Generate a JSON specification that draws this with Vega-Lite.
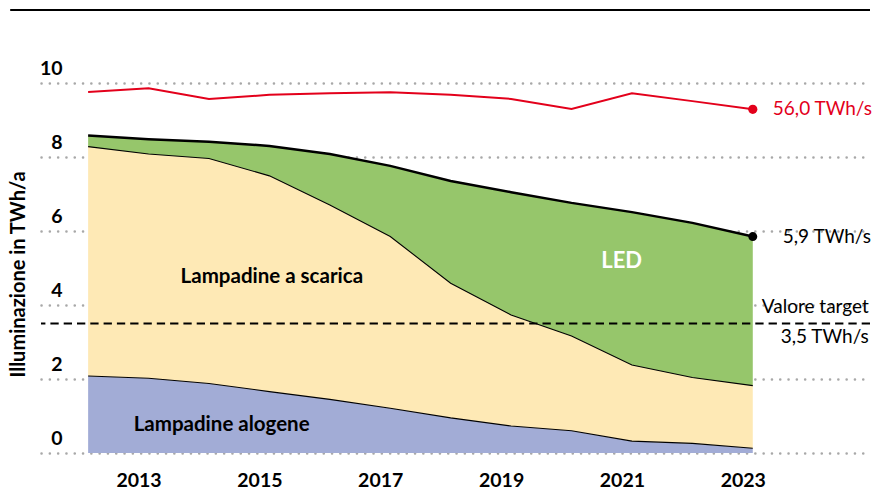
{
  "$schema": "https://vega.github.io/schema/vega-lite/v6.json",
  "width": 829,
  "height": 443,
  "autosize": {"type": "none"},
  "padding": {"left": 41, "top": 10, "right": 3, "bottom": 36},
  "background": "white",
  "config": {
    "view": {"stroke": null},
    "font": "Lato",
    "text": {"font": "Lato"}
  },
  "datasets": {
    "mix": [
      {"year": 2012, "cat": "Lampadine alogene", "rank": 1, "value": 2.08},
      {"year": 2013, "cat": "Lampadine alogene", "rank": 1, "value": 2.02},
      {"year": 2014, "cat": "Lampadine alogene", "rank": 1, "value": 1.88},
      {"year": 2015, "cat": "Lampadine alogene", "rank": 1, "value": 1.66},
      {"year": 2016, "cat": "Lampadine alogene", "rank": 1, "value": 1.45},
      {"year": 2017, "cat": "Lampadine alogene", "rank": 1, "value": 1.21},
      {"year": 2018, "cat": "Lampadine alogene", "rank": 1, "value": 0.95},
      {"year": 2019, "cat": "Lampadine alogene", "rank": 1, "value": 0.73},
      {"year": 2020, "cat": "Lampadine alogene", "rank": 1, "value": 0.60},
      {"year": 2021, "cat": "Lampadine alogene", "rank": 1, "value": 0.32},
      {"year": 2022, "cat": "Lampadine alogene", "rank": 1, "value": 0.26},
      {"year": 2023, "cat": "Lampadine alogene", "rank": 1, "value": 0.13},
      {"year": 2012, "cat": "Lampadine a scarica", "rank": 2, "value": 6.20},
      {"year": 2013, "cat": "Lampadine a scarica", "rank": 2, "value": 6.06},
      {"year": 2014, "cat": "Lampadine a scarica", "rank": 2, "value": 6.08},
      {"year": 2015, "cat": "Lampadine a scarica", "rank": 2, "value": 5.83},
      {"year": 2016, "cat": "Lampadine a scarica", "rank": 2, "value": 5.25},
      {"year": 2017, "cat": "Lampadine a scarica", "rank": 2, "value": 4.64},
      {"year": 2018, "cat": "Lampadine a scarica", "rank": 2, "value": 3.64},
      {"year": 2019, "cat": "Lampadine a scarica", "rank": 2, "value": 3.00},
      {"year": 2020, "cat": "Lampadine a scarica", "rank": 2, "value": 2.56},
      {"year": 2021, "cat": "Lampadine a scarica", "rank": 2, "value": 2.06},
      {"year": 2022, "cat": "Lampadine a scarica", "rank": 2, "value": 1.78},
      {"year": 2023, "cat": "Lampadine a scarica", "rank": 2, "value": 1.69},
      {"year": 2012, "cat": "LED", "rank": 3, "value": 0.30},
      {"year": 2013, "cat": "LED", "rank": 3, "value": 0.40},
      {"year": 2014, "cat": "LED", "rank": 3, "value": 0.45},
      {"year": 2015, "cat": "LED", "rank": 3, "value": 0.81},
      {"year": 2016, "cat": "LED", "rank": 3, "value": 1.38},
      {"year": 2017, "cat": "LED", "rank": 3, "value": 1.91},
      {"year": 2018, "cat": "LED", "rank": 3, "value": 2.76},
      {"year": 2019, "cat": "LED", "rank": 3, "value": 3.32},
      {"year": 2020, "cat": "LED", "rank": 3, "value": 3.60},
      {"year": 2021, "cat": "LED", "rank": 3, "value": 4.13},
      {"year": 2022, "cat": "LED", "rank": 3, "value": 4.18},
      {"year": 2023, "cat": "LED", "rank": 3, "value": 4.03}
    ],
    "red": [
      {"year": 2012, "value": 9.76},
      {"year": 2013, "value": 9.86},
      {"year": 2014, "value": 9.57},
      {"year": 2015, "value": 9.68},
      {"year": 2016, "value": 9.72},
      {"year": 2017, "value": 9.75},
      {"year": 2018, "value": 9.68},
      {"year": 2019, "value": 9.57},
      {"year": 2020, "value": 9.30},
      {"year": 2021, "value": 9.72},
      {"year": 2022, "value": 9.51},
      {"year": 2023, "value": 9.29}
    ],
    "labels": [
      {"year": 2015.04, "value": 4.76, "text": "Lampadine a scarica", "color": "black", "size": 20.5},
      {"year": 2020.83, "value": 5.2, "text": "LED", "color": "white", "size": 22},
      {"year": 2014.21, "value": 0.76, "text": "Lampadine alogene", "color": "black", "size": 20.5}
    ]
  },
  "layer": [
    {
      "data": {"name": "mix"},
      "transform": [
        {"stack": "value", "groupby": ["year"], "sort": [{"field": "rank", "order": "ascending"}], "as": ["v0", "v1"]}
      ],
      "mark": {"type": "area", "opacity": 1},
      "encoding": {
        "x": {
          "field": "year", "type": "quantitative",
          "scale": {"domain": [2011.22, 2024.94], "nice": false, "zero": false},
          "axis": {
            "title": null, "values": [2013, 2015, 2017, 2019, 2021, 2023], "format": "d",
            "domain": false, "ticks": false, "tickSize": 0, "grid": false,
            "labelFont": "Lato", "labelFontSize": 19.5, "labelFontWeight": "bold", "labelColor": "black",
            "labelPadding": 27, "labelBaseline": "middle", "labelOffset": -10
          }
        },
        "y": {
          "field": "v1", "type": "quantitative",
          "scale": {"domain": [0, 11.973], "nice": false, "zero": true},
          "axis": {
            "title": "Illuminazione in TWh/a", "values": [0, 2, 4, 6, 8, 10],
            "domain": false, "ticks": false, "tickSize": 0,
            "grid": true, "gridColor": "#a8a8a8", "gridWidth": 2.5, "gridDash": [0.1, 8.2], "gridCap": "round",
            "labelFont": "Lato", "labelFontSize": 19.5, "labelFontWeight": "bold", "labelColor": "black",
            "labelAlign": "right", "labelBaseline": "middle", "labelPadding": -21, "labelOffset": -15,
            "titleFont": "Lato", "titleFontSize": 20, "titleFontWeight": "bold", "titleColor": "black",
            "titleAngle": 270, "titleAlign": "center", "titleBaseline": "middle", "titleX": -23, "titleY": 264
          }
        },
        "y2": {"field": "v0"},
        "color": {
          "field": "cat", "type": "nominal",
          "scale": {"domain": ["Lampadine alogene", "Lampadine a scarica", "LED"], "range": ["#a2acd6", "#fee9b5", "#96c66b"]},
          "legend": null
        }
      }
    },
    {
      "data": {"name": "mix"},
      "transform": [
        {"stack": "value", "groupby": ["year"], "sort": [{"field": "rank", "order": "ascending"}], "as": ["v0", "v1"]},
        {"filter": "datum.rank < 3"}
      ],
      "mark": {"type": "line", "color": "black", "strokeWidth": 1.1},
      "encoding": {
        "x": {"field": "year", "type": "quantitative"},
        "y": {"field": "v1", "type": "quantitative"},
        "detail": {"field": "cat"}
      }
    },
    {
      "data": {"name": "mix"},
      "transform": [
        {"stack": "value", "groupby": ["year"], "sort": [{"field": "rank", "order": "ascending"}], "as": ["v0", "v1"]},
        {"filter": "datum.rank == 3"}
      ],
      "layer": [
        {
          "mark": {"type": "line", "color": "black", "strokeWidth": 2.5},
          "encoding": {
            "x": {"field": "year", "type": "quantitative"},
            "y": {"field": "v1", "type": "quantitative"}
          }
        },
        {
          "transform": [{"filter": "datum.year == 2023"}],
          "mark": {"type": "point", "filled": true, "color": "black", "size": 80, "opacity": 1},
          "encoding": {
            "x": {"field": "year", "type": "quantitative"},
            "y": {"field": "v1", "type": "quantitative"}
          }
        },
        {
          "transform": [{"filter": "datum.year == 2023"}],
          "mark": {"type": "text", "align": "left", "baseline": "middle", "dx": 30, "fontSize": 19, "color": "black", "font": "Lato"},
          "encoding": {
            "x": {"field": "year", "type": "quantitative"},
            "y": {"field": "v1", "type": "quantitative"},
            "text": {"value": "5,9 TWh/s"}
          }
        }
      ]
    },
    {
      "data": {"name": "red"},
      "layer": [
        {
          "mark": {"type": "line", "color": "#e3001b", "strokeWidth": 2},
          "encoding": {
            "x": {"field": "year", "type": "quantitative"},
            "y": {"field": "value", "type": "quantitative"}
          }
        },
        {
          "transform": [{"filter": "datum.year == 2023"}],
          "mark": {"type": "point", "filled": true, "color": "#e3001b", "size": 85, "opacity": 1},
          "encoding": {
            "x": {"field": "year", "type": "quantitative"},
            "y": {"field": "value", "type": "quantitative"}
          }
        },
        {
          "transform": [{"filter": "datum.year == 2023"}],
          "mark": {"type": "text", "align": "left", "baseline": "middle", "dx": 20, "fontSize": 19, "color": "#e3001b", "font": "Lato"},
          "encoding": {
            "x": {"field": "year", "type": "quantitative"},
            "y": {"field": "value", "type": "quantitative"},
            "text": {"value": "56,0 TWh/s"}
          }
        }
      ]
    },
    {
      "data": {"values": [{"target": 3.5}]},
      "layer": [
        {
          "mark": {"type": "rule", "color": "black", "strokeWidth": 2, "strokeDash": [8.3, 5]},
          "encoding": {"y": {"field": "target", "type": "quantitative"}}
        },
        {
          "mark": {"type": "text", "align": "right", "baseline": "middle", "dy": -17, "fontSize": 19, "color": "black", "font": "Lato"},
          "encoding": {
            "x": {"datum": 2024.92, "type": "quantitative"},
            "y": {"field": "target", "type": "quantitative"},
            "text": {"value": "Valore target"}
          }
        },
        {
          "mark": {"type": "text", "align": "right", "baseline": "middle", "dy": 13, "fontSize": 19, "color": "black", "font": "Lato"},
          "encoding": {
            "x": {"datum": 2024.92, "type": "quantitative"},
            "y": {"field": "target", "type": "quantitative"},
            "text": {"value": "3,5 TWh/s"}
          }
        }
      ]
    },
    {
      "data": {"values": [{"top": 11.973}]},
      "mark": {"type": "rule", "color": "black", "strokeWidth": 2},
      "encoding": {
        "x": {"datum": 2010.71, "type": "quantitative"},
        "x2": {"datum": 2024.94},
        "y": {"field": "top", "type": "quantitative"}
      }
    },
    {
      "data": {"name": "labels"},
      "mark": {"type": "text", "align": "center", "baseline": "middle", "fontWeight": "bold", "font": "Lato"},
      "encoding": {
        "x": {"field": "year", "type": "quantitative"},
        "y": {"field": "value", "type": "quantitative"},
        "text": {"field": "text"},
        "color": {"field": "color", "type": "nominal", "scale": null},
        "size": {"field": "size", "type": "quantitative", "scale": null}
      }
    }
  ]
}
